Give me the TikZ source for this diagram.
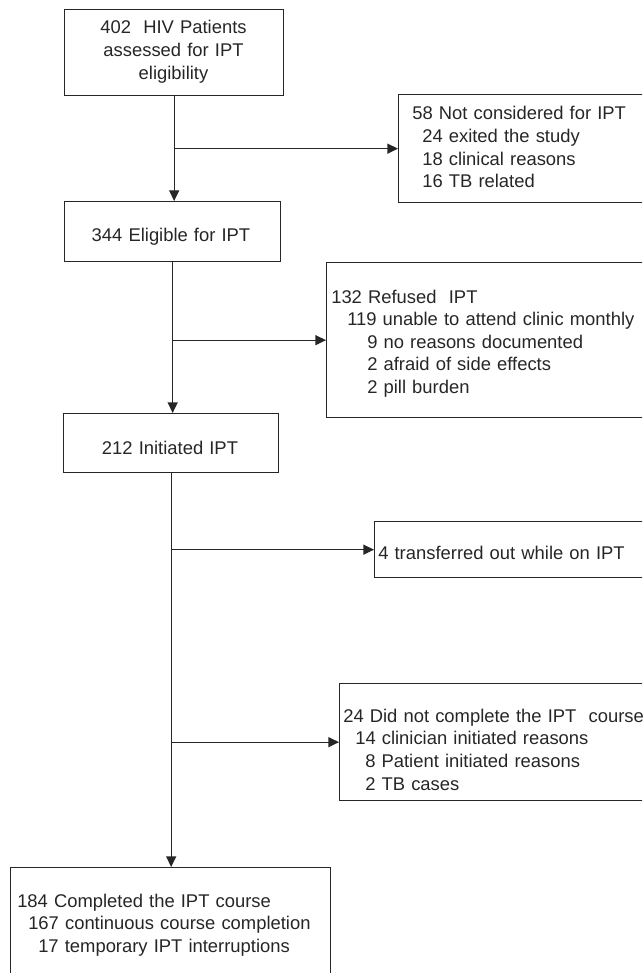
\documentclass[tikz,border=0pt]{standalone}
\usepackage{fontspec}
\setmainfont{Liberation Sans}
\usetikzlibrary{arrows.meta}
\begin{document}
\begin{tikzpicture}[x=0.75pt,y=-0.75pt,
  box/.style={draw=black!85, line width=1pt, rectangle, inner sep=0pt, anchor=north west},
  txt/.style={inner sep=0pt, text=black!85, font=\fontsize{13.8pt}{17pt}\selectfont, text width=260pt, align=left, anchor=base west},
  ctxt/.style={inner sep=0pt, text=black!85, font=\fontsize{13.8pt}{17pt}\selectfont, text width=150pt, align=center, anchor=base},
  flow/.style={draw=black!85, line width=1pt, -{Triangle[length=8pt,width=7.5pt]}}]
\clip (0,0) rectangle (642,973);
% main column boxes
\node[box, minimum width=164.25pt, minimum height=64.5pt] (b1) at (64,9) {};
\node[box, minimum width=162pt, minimum height=45pt] (b2) at (64,201) {};
\node[box, minimum width=161.25pt, minimum height=44.25pt] (b3) at (63,413) {};
\node[box, minimum width=240pt, minimum height=88.5pt] (b4) at (10,867) {};
% side boxes
\node[box, minimum width=196.5pt, minimum height=81pt] (s1) at (398,94) {};
\node[box, minimum width=250.5pt, minimum height=116.25pt] (s2) at (326,262) {};
\node[box, minimum width=214.5pt, minimum height=42pt] (s3) at (374,521) {};
\node[box, minimum width=240.75pt, minimum height=87.75pt] (s4) at (339,683) {};
% texts
\node[ctxt] (t1) at (173.5,34) {402\ \ HIV Patients\\assessed for IPT\\eligibility};
\node[ctxt] (t2) at (171,242) {344 Eligible for IPT};
\node[ctxt] (t3) at (170,454) {212 Initiated IPT};
\node[txt] (t4) at (17,907) {184 Completed the IPT course\\\hspace*{8.25pt}167 continuous course completion\\\hspace*{15.75pt}17 temporary IPT interruptions};
\node[txt] (u1) at (412,120) {58 Not considered for IPT\\\hspace*{7.5pt}24 exited the study\\\hspace*{7.5pt}18 clinical reasons\\\hspace*{7.5pt}16 TB related};
\node[txt] (u2) at (331,303) {132 Refused\ \ IPT\\\hspace*{12pt}119 unable to attend clinic monthly\\\hspace*{27pt}9 no reasons documented\\\hspace*{27pt}2 afraid of side effects\\\hspace*{27pt}2 pill burden};
\node[txt] (u3) at (378,559) {4 transferred out while on IPT};
\node[txt] (u4) at (343,722) {24 Did not complete the IPT\ \ course\\\hspace*{9pt}14 clinician initiated reasons\\\hspace*{16.5pt}8 Patient initiated reasons\\\hspace*{16.5pt}2 TB cases};
% connectors
\draw[flow] (b1.south) -- (b1.south |- b2.north);
\draw[flow] (b1.south |- s1.west) -- (s1.west);
\draw[flow] (b2.south) -- (b2.south |- b3.north);
\draw[flow] (b2.south |- s2.west) -- (s2.west);
\draw[flow] (b3.south) -- (b3.south |- b4.north);
\draw[flow] (b3.south |- s3.west) -- (s3.west);
\draw[flow] (b3.south |- s4.west) -- (s4.west);
\end{tikzpicture}
\end{document}
